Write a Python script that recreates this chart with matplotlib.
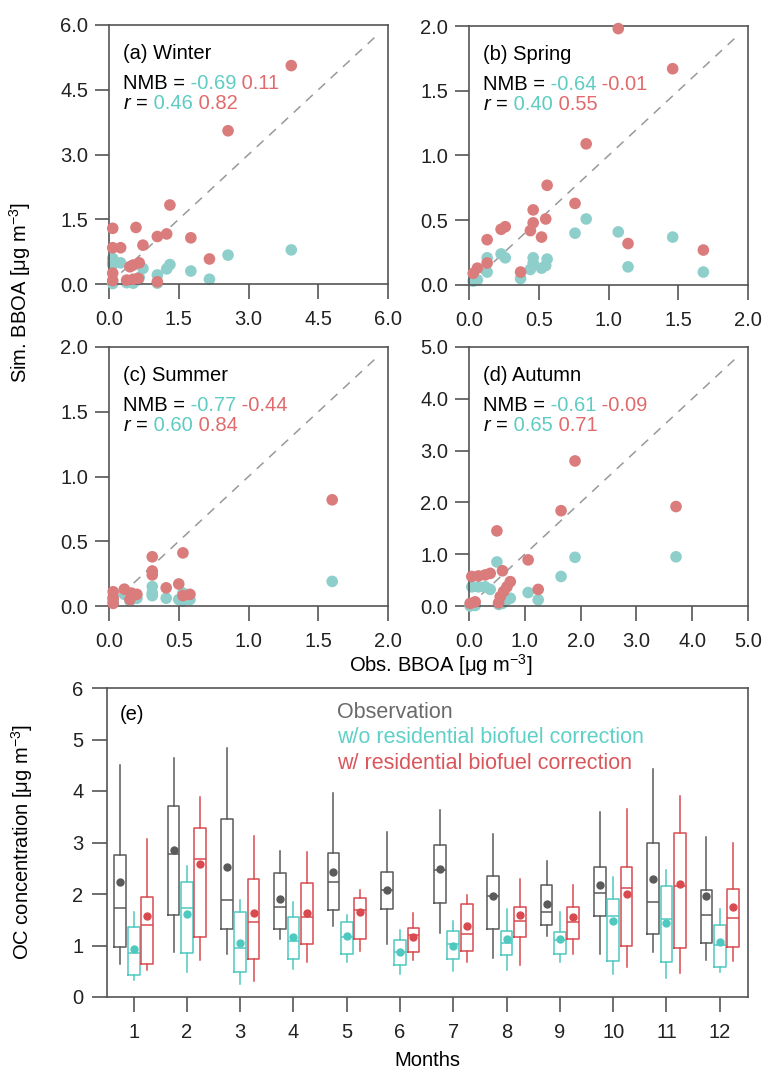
import numpy as np
import matplotlib
matplotlib.use('Agg')
import matplotlib.pyplot as plt

plt.rcParams['font.family'] = ['Liberation Sans', 'DejaVu Sans']
plt.rcParams['font.size'] = 14.5
plt.rcParams['mathtext.fontset'] = 'custom'
plt.rcParams['mathtext.rm'] = 'Liberation Sans'
plt.rcParams['mathtext.it'] = 'Liberation Sans:italic'

# ---- scatter data: obs BBOA, sim w/o correction (teal), sim w/ correction (red)
winter_obs = [0.08, 0.08, 0.08, 0.08, 0.25, 0.38, 0.45, 0.52, 0.52, 0.58, 0.63, 0.65, 0.73, 1.04, 1.04, 1.24, 1.31, 1.76, 2.16, 2.56, 3.92]
winter_wo = [0.59, 0.49, 0.01, 0.45, 0.49, 0.03, 0.05, 0.02, 0.05, 0.10, 0.10, 0.15, 0.36, 0.21, 0.02, 0.35, 0.45, 0.30, 0.11, 0.67, 0.79]
winter_w = [1.29, 0.84, 0.25, 0.08, 0.84, 0.09, 0.40, 0.44, 0.11, 1.31, 0.13, 0.49, 0.90, 1.10, 0.05, 1.16, 1.83, 1.07, 0.58, 3.55, 5.06]

spring_obs = [0.03, 0.06, 0.13, 0.13, 0.23, 0.26, 0.37, 0.44, 0.46, 0.46, 0.52, 0.55, 0.56, 0.76, 0.84, 1.07, 1.14, 1.46, 1.68]
spring_wo = [0.03, 0.04, 0.10, 0.21, 0.24, 0.21, 0.05, 0.12, 0.21, 0.17, 0.13, 0.15, 0.20, 0.40, 0.51, 0.41, 0.14, 0.37, 0.10]
spring_w = [0.09, 0.13, 0.17, 0.35, 0.43, 0.45, 0.10, 0.42, 0.58, 0.48, 0.37, 0.51, 0.77, 0.63, 1.09, 1.98, 0.32, 1.67, 0.27]

summer_obs = [0.03, 0.03, 0.03, 0.11, 0.15, 0.16, 0.20, 0.31, 0.31, 0.31, 0.41, 0.50, 0.53, 0.53, 0.58, 1.60]
summer_wo = [0.03, 0.07, 0.05, 0.09, 0.04, 0.07, 0.06, 0.15, 0.08, 0.10, 0.06, 0.05, 0.10, 0.04, 0.05, 0.19]
summer_w = [0.02, 0.06, 0.11, 0.13, 0.05, 0.10, 0.09, 0.38, 0.27, 0.24, 0.14, 0.17, 0.41, 0.08, 0.09, 0.82]

autumn_obs = [0.02, 0.11, 0.05, 0.17, 0.29, 0.38, 0.50, 0.53, 0.56, 0.60, 0.62, 0.68, 0.74, 1.06, 1.24, 1.65, 1.90, 3.71]
autumn_wo = [0.00, 0.01, 0.37, 0.37, 0.37, 0.32, 0.85, 0.03, 0.08, 0.05, 0.10, 0.12, 0.15, 0.26, 0.12, 0.57, 0.94, 0.95]
autumn_w = [0.05, 0.08, 0.57, 0.58, 0.60, 0.63, 1.45, 0.06, 0.18, 0.68, 0.28, 0.37, 0.47, 0.89, 0.32, 1.84, 2.80, 1.92]

panel_titles = ['(a) Winter', '(b) Spring', '(c) Summer', '(d) Autumn']
panel_lims = [6.0, 2.0, 2.0, 5.0]
panel_ticks = [[0, 1.5, 3.0, 4.5, 6.0], [0, 0.5, 1.0, 1.5, 2.0], [0, 0.5, 1.0, 1.5, 2.0], [0, 1, 2, 3, 4, 5]]
nmb_wo = ['-0.69', '-0.64', '-0.77', '-0.61']
nmb_w = ['0.11', '-0.01', '-0.44', '-0.09']
r_wo = ['0.46', '0.40', '0.60', '0.65']
r_w = ['0.82', '0.55', '0.84', '0.71']

# ---- monthly OC box stats: (whislo, q1, med, q3, whishi, mean)
months = np.arange(1, 13)
obs_stats = [(0.65, 0.97, 1.73, 2.76, 4.51, 2.23), (0.87, 1.60, 2.78, 3.70, 4.65, 2.86),
             (0.84, 1.32, 1.88, 3.46, 4.83, 2.53), (1.12, 1.32, 1.75, 2.41, 2.83, 1.91),
             (1.38, 1.68, 2.23, 2.80, 3.97, 2.42), (1.03, 1.70, 2.08, 2.43, 3.20, 2.08),
             (1.25, 1.83, 2.46, 2.96, 3.63, 2.48), (0.75, 1.33, 1.96, 2.35, 3.16, 1.96),
             (1.18, 1.39, 1.65, 2.17, 2.64, 1.80), (0.83, 1.58, 2.01, 2.53, 3.60, 2.17),
             (0.88, 1.23, 1.84, 3.00, 4.42, 2.30), (0.71, 1.04, 1.60, 2.07, 3.10, 1.96)]
wo_stats = [(0.33, 0.42, 0.85, 1.35, 1.65, 0.94), (0.48, 0.85, 1.73, 2.24, 2.55, 1.62),
            (0.25, 0.48, 0.95, 1.66, 1.88, 1.05), (0.55, 0.73, 1.08, 1.56, 1.85, 1.17),
            (0.68, 0.83, 1.17, 1.46, 1.59, 1.18), (0.45, 0.63, 0.88, 1.10, 1.31, 0.87),
            (0.51, 0.73, 1.02, 1.28, 1.48, 1.00), (0.52, 0.81, 1.04, 1.28, 1.71, 1.12),
            (0.68, 0.83, 1.10, 1.26, 1.65, 1.12), (0.45, 0.70, 1.58, 1.90, 2.33, 1.47),
            (0.36, 0.67, 1.52, 2.16, 2.46, 1.44), (0.49, 0.58, 1.01, 1.39, 1.71, 1.07)]
w_stats = [(0.52, 0.65, 1.40, 1.94, 3.06, 1.57), (0.72, 1.16, 2.67, 3.29, 3.88, 2.58),
           (0.32, 0.74, 1.45, 2.30, 3.13, 1.63), (0.68, 1.03, 1.56, 2.21, 2.81, 1.63),
           (0.89, 1.13, 1.68, 1.93, 2.08, 1.65), (0.72, 0.87, 1.20, 1.34, 1.63, 1.16),
           (0.68, 0.89, 1.23, 1.80, 1.98, 1.38), (0.63, 1.17, 1.48, 1.75, 2.30, 1.60),
           (0.83, 1.13, 1.45, 1.75, 2.17, 1.56), (0.58, 0.99, 2.12, 2.52, 3.66, 2.00),
           (0.47, 0.95, 2.16, 3.18, 3.91, 2.19), (0.70, 0.97, 1.54, 2.10, 3.00, 1.74)]

c_wo_pt, c_w_pt = '#8ecfcb', '#da7b7c'
c_wo_txt, c_w_txt = '#5fccc3', '#e06a6c'
c_obs_box, c_wo_box, c_w_box = '#5a5a5a', '#4ec9c0', '#d94a50'
spine_c = '#555555'

fig = plt.figure(figsize=(7.66, 10.69), dpi=100)
W, H = 766, 1069


def fax(l, t, r, b):
    return fig.add_axes([l / W, 1 - b / H, (r - l) / W, (b - t) / H])


axes = [fax(109, 25, 388, 284), fax(469, 26, 748, 285),
        fax(109, 347, 388, 606), fax(469, 347, 748, 606)]
data = [(winter_obs, winter_wo, winter_w), (spring_obs, spring_wo, spring_w),
        (summer_obs, summer_wo, summer_w), (autumn_obs, autumn_wo, autumn_w)]


def style(ax):
    for s in ax.spines.values():
        s.set_color(spine_c)
        s.set_linewidth(1.2)
    ax.tick_params(direction='out', color=spine_c, width=1.2, labelcolor='#222222')


for i, ax in enumerate(axes):
    obs, wo, w = data[i]
    lim = panel_lims[i]
    ax.plot([0, lim * 0.97], [0, lim * 0.97], ls=(0, (6, 5)), color='#999999', lw=1.1, zorder=1)
    ax.scatter(obs, wo, s=70, color=c_wo_pt, edgecolors='none', clip_on=False, zorder=2)
    ax.scatter(obs, w, s=70, color=c_w_pt, edgecolors='none', clip_on=False, zorder=3)
    ax.set_xlim(0, lim)
    ax.set_ylim(0, lim)
    ax.set_xticks(panel_ticks[i])
    ax.set_yticks(panel_ticks[i])
    ax.xaxis.set_major_formatter(matplotlib.ticker.FormatStrFormatter('%.1f'))
    ax.yaxis.set_major_formatter(matplotlib.ticker.FormatStrFormatter('%.1f'))
    style(ax)
    ax.tick_params(axis='x', length=11, pad=8)
    ax.tick_params(axis='y', length=10, pad=5)
    ax.text(0.05, 0.89, panel_titles[i], transform=ax.transAxes, va='center', ha='left')
    t = ax.text(0.05, 0.775, 'NMB =', transform=ax.transAxes, va='center', ha='left')
    t2 = ax.annotate(' ' + nmb_wo[i], xy=(1, 0), xycoords=t, va='bottom', ha='left', color=c_wo_txt)
    ax.annotate(' ' + nmb_w[i], xy=(1, 0), xycoords=t2, va='bottom', ha='left', color=c_w_txt)
    t = ax.text(0.05, 0.695, '$\\it{r}$ =', transform=ax.transAxes, va='center', ha='left')
    t2 = ax.annotate(' ' + r_wo[i], xy=(1, 0), xycoords=t, va='bottom', ha='left', color=c_wo_txt)
    ax.annotate(' ' + r_w[i], xy=(1, 0), xycoords=t2, va='bottom', ha='left', color=c_w_txt)

fig.text(20 / W, 1 - 292 / H, 'Sim. BBOA [μg m$^{-3}$]', rotation=90, ha='center', va='center')
fig.text(441 / W, 1 - 665 / H, 'Obs. BBOA [μg m$^{-3}$]', ha='center', va='center')

# ---- box plot panel
axe = fax(107, 688, 748, 997)


def to_bxp(stats):
    return [dict(whislo=s[0], q1=s[1], med=s[2], q3=s[3], whishi=s[4], mean=s[5], fliers=[]) for s in stats]


for stats, off, c in [(obs_stats, -0.25, c_obs_box), (wo_stats, 0.0, c_wo_box), (w_stats, 0.25, c_w_box)]:
    axe.bxp(to_bxp(stats), positions=months + off, widths=0.22, showmeans=True, showcaps=False,
            manage_ticks=False,
            boxprops=dict(color=c, lw=1.1), whiskerprops=dict(color=c, lw=1.1),
            medianprops=dict(color=c, lw=1.1),
            meanprops=dict(marker='o', markerfacecolor=c, markeredgecolor=c, markersize=5))

axe.set_xlim(0.5, 12.53)
axe.set_ylim(0, 6)
axe.set_xticks(months)
axe.set_yticks(np.arange(0, 7))
style(axe)
axe.tick_params(axis='x', length=11, pad=8)
axe.tick_params(axis='y', length=11, pad=6)
axe.set_xlabel('Months')
axe.xaxis.set_label_coords(0.5, -0.204)
axe.xaxis.label.set_va('center')
axe.set_ylabel('OC concentration [μg m$^{-3}$]')
axe.yaxis.set_label_coords(-0.133, 0.5)
axe.yaxis.label.set_va('center')
axe.text(0.02, 0.913, '(e)', transform=axe.transAxes, va='center', ha='left')
axe.text(0.359, 0.922, 'Observation', transform=axe.transAxes, va='center', ha='left',
         color='#6a6a6a', fontsize=15.5)
axe.text(0.359, 0.841, 'w/o residential biofuel correction', transform=axe.transAxes, va='center',
         ha='left', color='#5fd0c8', fontsize=15.5)
axe.text(0.359, 0.757, 'w/ residential biofuel correction', transform=axe.transAxes, va='center',
         ha='left', color='#d9575c', fontsize=15.5)

fig.savefig('out.png', dpi=100)
